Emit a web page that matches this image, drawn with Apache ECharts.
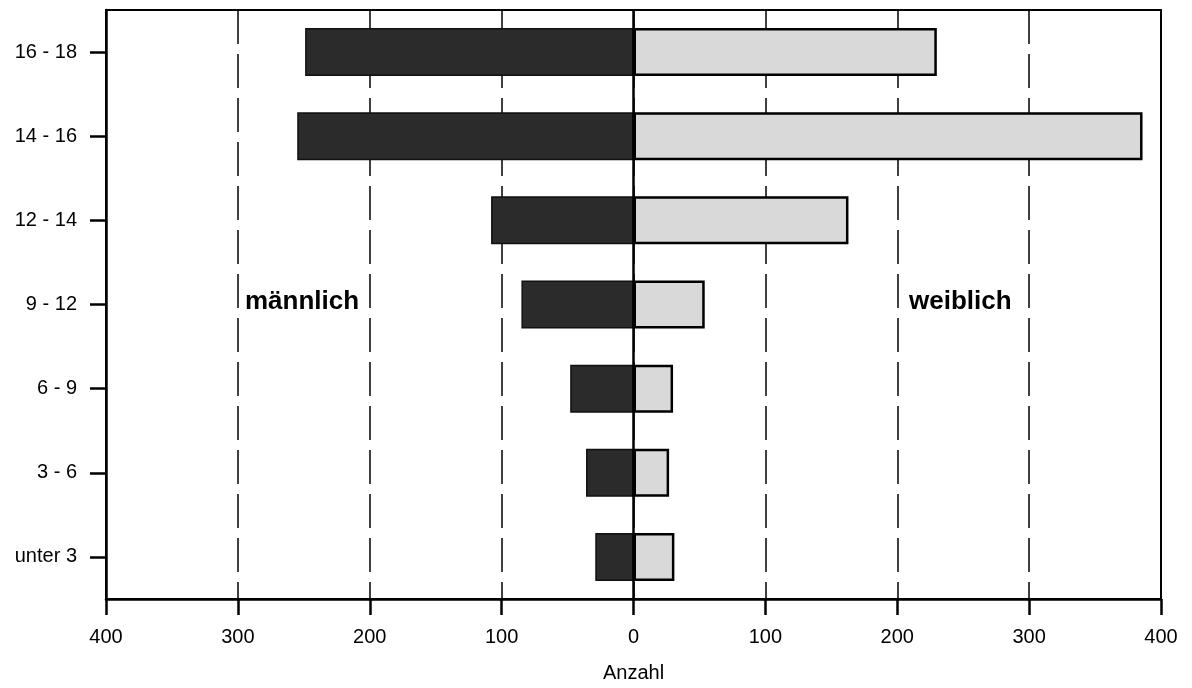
<!DOCTYPE html>
<html>
<head>
<meta charset="utf-8">
<script src="https://cdn.jsdelivr.net/npm/echarts@6/dist/echarts.min.js"></script>
<style>
html,body{margin:0;padding:0;background:#fff;}
#chart{width:1192px;height:688px;}
</style>
</head>
<body>
<div id="chart"></div>
<script>
var categories = ['unter 3', '3 - 6', '6 - 9', '9 - 12', '12 - 14', '14 - 16', '16 - 18'];
var maleValues = [29, 36, 48, 85, 108, 255, 249];
var femaleValues = [31, 27, 30, 54, 163, 386, 230];
var xTicks = [-400, -300, -200, -100, 0, 100, 200, 300, 400];

var chart = echarts.init(document.getElementById('chart'));
var font = 'Liberation Sans, Arial, sans-serif';
chart.setOption({
  animation: false,
  backgroundColor: '#ffffff',
  grid: {left: 106, right: 31, top: 10, bottom: 89, show: true, borderColor: '#000', borderWidth: 2},
  xAxis: {
    type: 'value', min: xTicks[0], max: xTicks[xTicks.length - 1], interval: 100,
    name: 'Anzahl', nameLocation: 'middle', nameGap: 64,
    nameTextStyle: {color: '#000', fontSize: 20, fontFamily: font},
    axisLine: {show: true, lineStyle: {color: '#000', width: 2.5}},
    axisTick: {show: true, length: 16, lineStyle: {color: '#000', width: 2.5}},
    axisLabel: {color: '#000', fontSize: 20, fontFamily: font, margin: 28,
      formatter: function (v) { return Math.abs(v); }},
    splitLine: {show: true, lineStyle: {color: '#000', width: 1.5, type: [34, 10]}}
  },
  yAxis: {
    type: 'category', data: categories, position: 'left',
    axisLine: {show: true, onZero: false, lineStyle: {color: '#000', width: 2.5}},
    axisTick: {show: true, alignWithLabel: true, length: 16, lineStyle: {color: '#000', width: 2.5}},
    axisLabel: {color: '#000', fontSize: 20, fontFamily: font, margin: 29},
    splitLine: {show: false}
  },
  series: [
    {
      name: 'männlich', type: 'bar', barWidth: 48, barGap: '-100%',
      data: maleValues.map(function (v) { return -v; }),
      itemStyle: {color: '#2b2b2b', borderColor: '#111', borderWidth: 1.5},
      markLine: {
        silent: true, symbol: 'none', label: {show: false},
        lineStyle: {color: '#000', width: 2.5, type: 'solid'},
        data: [{xAxis: 0}]
      }
    },
    {
      name: 'weiblich', type: 'bar', barWidth: 48,
      data: femaleValues,
      itemStyle: {color: '#d9d9d9', borderColor: '#000', borderWidth: 2.5}
    }
  ],
  graphic: [
    {type: 'text', x: 245, y: 302, style: {text: 'männlich', fill: '#000', font: 'bold 26px ' + font, verticalAlign: 'middle'}},
    {type: 'text', x: 909, y: 302, style: {text: 'weiblich', fill: '#000', font: 'bold 26px ' + font, verticalAlign: 'middle'}}
  ]
});
</script>
</body>
</html>
